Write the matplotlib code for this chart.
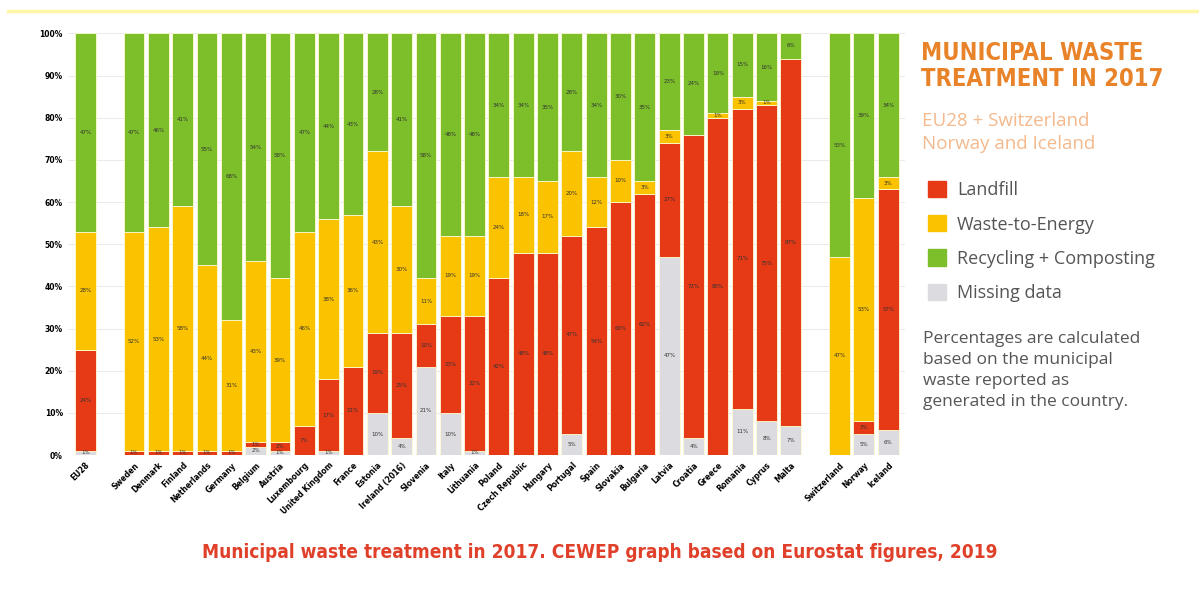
import matplotlib.pyplot as plt
import matplotlib.patches as mpatches
import numpy as np

# data (percent of municipal waste)
countries = ['EU28', '', 'Sweden', 'Denmark', 'Finland', 'Netherlands', 'Germany',
             'Belgium', 'Austria', 'Luxembourg', 'United Kingdom', 'France', 'Estonia',
             'Ireland (2016)', 'Slovenia', 'Italy', 'Lithuania', 'Poland',
             'Czech Republic', 'Hungary', 'Portugal', 'Spain', 'Slovakia', 'Bulgaria',
             'Latvia', 'Croatia', 'Greece', 'Romania', 'Cyprus', 'Malta', '',
             'Switzerland', 'Norway', 'Iceland']
missing = [1, 0, 0, 0, 0, 0, 0, 2, 1, 0, 1, 0, 10, 4, 21, 10, 1, 0, 0, 0, 5, 0, 0, 0,
           47, 4, 0, 11, 8, 7, 0, 0, 5, 6]
landfill = [24, 0, 1, 1, 1, 1, 1, 1, 2, 7, 17, 21, 19, 25, 10, 23, 32, 42, 48, 48, 47,
            54, 60, 62, 27, 72, 80, 71, 75, 87, 0, 0, 3, 57]
wte = [28, 0, 52, 53, 58, 44, 31, 43, 39, 46, 38, 36, 43, 30, 11, 19, 19, 24, 18, 17,
       20, 12, 10, 3, 3, 0, 1, 3, 1, 0, 0, 47, 53, 3]
recycling = [47, 0, 47, 46, 41, 55, 68, 54, 58, 47, 44, 43, 28, 41, 58, 48, 48, 34, 34,
             35, 28, 34, 30, 35, 23, 24, 19, 15, 16, 6, 0, 53, 39, 34]

c_red = '#E63A17'
c_yel = '#FBC200'
c_grn = '#7CBF2A'
c_gry = '#DCDCE0'

fig = plt.figure(figsize=(11.99, 6.06), dpi=100)
ax = fig.add_axes([0.057, 0.249, 0.698, 0.696])

x = np.arange(len(countries))
layers = [(missing, c_gry), (landfill, c_red), (wte, c_yel), (recycling, c_grn)]
bottom = np.zeros(len(countries))
for vals, col in layers:
    vals = np.array(vals, dtype=float)
    ax.bar(x, vals, bottom=bottom, width=0.86, color=col, edgecolor='#FFFBD0',
           linewidth=0.6, zorder=2)
    for xi, v, b in zip(x, vals, bottom):
        if v > 0:
            ax.text(xi, b + v / 2, f'{int(v)}%', ha='center', va='center',
                    fontsize=4, color='#333333', zorder=3)
    bottom += vals

ax.set_xlim(-0.7, len(countries) - 0.3)
ax.set_ylim(0, 100)
ax.set_yticks(np.arange(0, 101, 10))
ax.set_yticklabels([f'{v}%' for v in range(0, 101, 10)], fontsize=5.5,
                   fontweight='bold')
ax.yaxis.grid(True, color='#E6E6E6', linewidth=0.6, zorder=0)
ax.set_xticks(x)
ax.set_xticklabels(countries, rotation=45, ha='right', rotation_mode='anchor',
                   fontsize=5.5, fontweight='bold')
ax.tick_params(length=0, pad=4)
for s in ax.spines.values():
    s.set_visible(False)

# title block and legend on the right
fig.text(0.768, 0.891, 'MUNICIPAL WASTE\nTREATMENT IN 2017', color='#E8832A',
         fontsize=17, fontweight='heavy', family='DejaVu Sans', fontstretch='condensed',
         va='center', ha='left', linespacing=1.12)
fig.text(0.769, 0.782, 'EU28 + Switzerland\nNorway and Iceland', color='#F4B98C',
         fontsize=13.5, family='Open Sans', va='center', ha='left', linespacing=1.35)

leg_items = [('Landfill', c_red), ('Waste-to-Energy', c_yel),
             ('Recycling + Composting', c_grn), ('Missing data', c_gry)]
handles = [mpatches.Patch(color=c, label=l) for l, c in leg_items]
fig.legend(handles=handles, loc='upper left', bbox_to_anchor=(0.768, 0.713),
           frameon=False, prop={'family': 'Open Sans', 'size': 13},
           labelcolor='#555555', handlelength=1.0, handleheight=1.0,
           handletextpad=0.6, labelspacing=0.88, borderaxespad=0)

fig.text(0.770, 0.388, 'Percentages are calculated\nbased on the municipal\n'
         'waste reported as\ngenerated in the country.', color='#555555',
         fontsize=12.5, family='Open Sans', va='center', ha='left', linespacing=1.42)

fig.text(0.5, 0.088, 'Municipal waste treatment in 2017. CEWEP graph based on Eurostat figures, 2019',
         color='#E0402A', fontsize=13.7, fontweight='bold', family='DejaVu Sans',
         fontstretch='condensed', ha='center', va='center')

# thin pale frame line at the top
fig.add_artist(plt.Line2D([0.007, 1.0], [0.982, 0.982], color='#FFF7A8',
                          linewidth=2.5, transform=fig.transFigure))

fig.savefig('out.png', dpi=100)
